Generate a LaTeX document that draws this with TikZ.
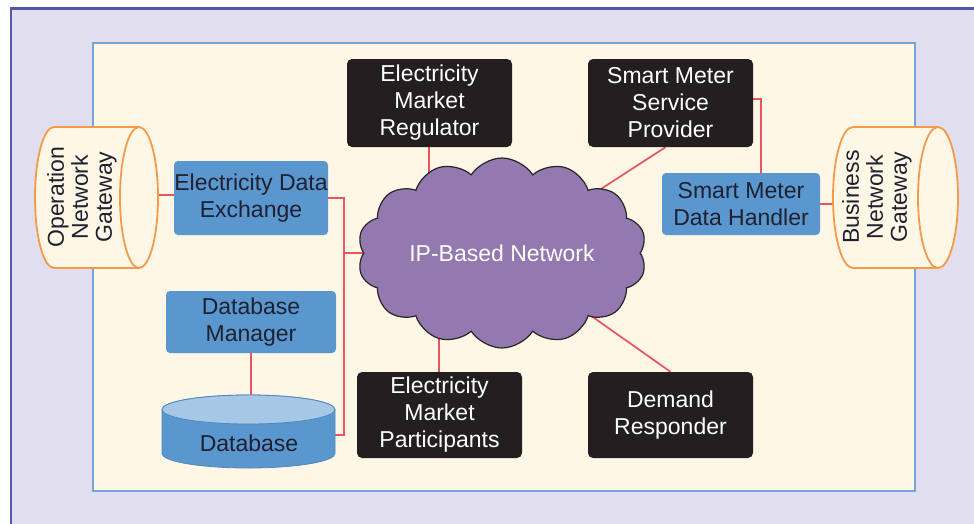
\documentclass[tikz,border=0pt]{standalone}
\usepackage{fontspec}
\setmainfont{Liberation Sans}
\usetikzlibrary{shapes.symbols}
\definecolor{lav}{HTML}{E1DEF0}
\definecolor{outerblue}{HTML}{5557A7}
\definecolor{cream}{HTML}{FFF7E5}
\definecolor{innerblue}{HTML}{76A5D5}
\definecolor{boxblue}{HTML}{5B97CF}
\definecolor{boxblueedge}{HTML}{4F88BE}
\definecolor{dbtop}{HTML}{A7C7E7}
\definecolor{gworange}{HTML}{F59A4B}
\definecolor{linkred}{HTML}{E9545E}
\definecolor{cloudpurple}{HTML}{9479B0}
\definecolor{boxblack}{HTML}{231F20}
\definecolor{textdark}{HTML}{1F2030}
\pgfdeclarelayer{back}
\pgfdeclarelayer{edges}
\pgfsetlayers{back,edges,main}
\begin{document}
\begin{tikzpicture}[x=1pt,y=-1pt,
  lbl/.style={font=\fontsize{23}{27}\selectfont, align=center, inner sep=0pt},
  bluebox/.style={lbl, fill=boxblue, rounded corners=4pt, text=textdark},
  blackbox/.style={lbl, fill=boxblack, rounded corners=5pt, text=white, minimum width=165pt},
  gwtext/.style={lbl, rotate=90, font=\fontsize{23}{24}\selectfont, text=textdark},
  gwshape/.style={fill=cream, draw=gworange, line width=1.8pt},
  link/.style={draw=linkred, line width=1.7pt},
  anchorbox/.style={inner sep=0pt, outer sep=0pt}
]
\useasboundingbox (0,0) rectangle (974,523);
\begin{pgfonlayer}{back}
  \fill[lav] (10,8) rectangle (990,540);
  \draw[outerblue, line width=2.6pt] (11,540) -- (11,8.7) -- (990,8.7);
  \filldraw[fill=cream, draw=innerblue, line width=2pt] (92.5,42.8) rectangle (914.5,490.8);
\end{pgfonlayer}

% Operation Network Gateway (cylinder)
\filldraw[gwshape] (54,127) -- (139,127)
  arc[start angle=-90, end angle=90, x radius=19, y radius=70.5]
  -- (54,268)
  arc[start angle=90, end angle=270, x radius=19, y radius=70.5] -- cycle;
\draw[gworange, line width=1.8pt] (139,127)
  arc[start angle=270, end angle=90, x radius=19, y radius=70.5];
\node[anchorbox, minimum width=123pt, minimum height=141pt] (ong) at (96.5,197.5) {};
\node[gwtext] (ongtext) at (82,197) {Operation\\Network\\Gateway};

% Business Network Gateway (cylinder)
\filldraw[gwshape] (853,127) -- (938,127)
  arc[start angle=-90, end angle=90, x radius=20, y radius=70.5]
  -- (853,268)
  arc[start angle=90, end angle=270, x radius=20, y radius=70.5] -- cycle;
\draw[gworange, line width=1.8pt] (938,127)
  arc[start angle=270, end angle=90, x radius=20, y radius=70.5];
\node[anchorbox, minimum width=125pt, minimum height=141pt] (bng) at (895.5,197.5) {};
\node[gwtext] (bngtext) at (877,197) {Business\\Network\\Gateway};

% Blue boxes
\node[bluebox, minimum width=154pt, minimum height=74pt] (ede) at (251,198) {Electricity Data\\Exchange};
\node[bluebox, minimum width=170pt, minimum height=62pt] (dbm) at (251,322) {Database\\Manager};
\node[bluebox, minimum width=158pt, minimum height=62pt] (smdh) at (741,204) {Smart Meter\\Data Handler};

% Database cylinder
\filldraw[fill=boxblue, draw=boxblueedge, line width=0.8pt] (162,409.5) -- (162,453.5)
  arc[start angle=180, end angle=0, x radius=86.5, y radius=14.5]
  -- (335,409.5)
  arc[start angle=0, end angle=-180, x radius=86.5, y radius=14.5] -- cycle;
\filldraw[fill=dbtop, draw=boxblueedge, line width=0.8pt] (248.5,409.5) ellipse[x radius=86.5, y radius=14.5];
\node[anchorbox, minimum width=173pt, minimum height=80pt] (db) at (248.5,435) {};
\node[lbl, text=textdark] (dbtext) at (249,443) {Database};

% Black boxes
\node[blackbox, minimum height=88pt] (emr) at (429.5,103) {Electricity\\Market\\Regulator};
\node[blackbox, minimum height=88pt] (smsp) at (670.5,103) {Smart Meter\\Service\\Provider};
\node[blackbox, minimum height=86pt] (emp) at (439.5,415) {Electricity\\Market\\Participants};
\node[blackbox, minimum height=86pt] (dr) at (670.5,415) {Demand\\Responder};

% Cloud
\node[cloud, cloud puffs=14, cloud puff arc=115, cloud ignores aspect,
  fill=cloudpurple, draw=black!85, line width=1.2pt,
  minimum width=289pt, minimum height=190pt, inner sep=0pt,
  text=white, font=\fontsize{23}{27}\selectfont] (net) at (502,253) {IP-Based Network};

% Connectors
\begin{pgfonlayer}{edges}
  \coordinate (bus) at (344,0);
  \draw[link] (ong.east |- 0,195) -- (ede.west |- 0,195);
  \draw[link] (ede.east) -- (ede.east -| bus) -- (bus |- db.east) -- (db.east);
  \draw[link] (bus |- net.center) -- (net.center);
  \draw[link] (dbm.south) -- (dbm.south |- db.north);
  \draw[link] ([xshift=-0.5pt]emr.south) -- ([xshift=-0.5pt]emr.south |- net.center);
  \draw[link] ([xshift=-0.5pt]emp.north) -- ([xshift=-0.5pt]emp.north |- net.center);
  \draw[link] ([xshift=-5pt]smsp.south) -- (net.center);
  \draw[link] (dr.north) -- (net.center);
  \draw[link] ([yshift=4pt]smsp.east) -| ([xshift=20pt]smdh.north);
  \draw[link] (smdh.east) -- (smdh.east -| bng.west);
\end{pgfonlayer}
\end{tikzpicture}
\end{document}
